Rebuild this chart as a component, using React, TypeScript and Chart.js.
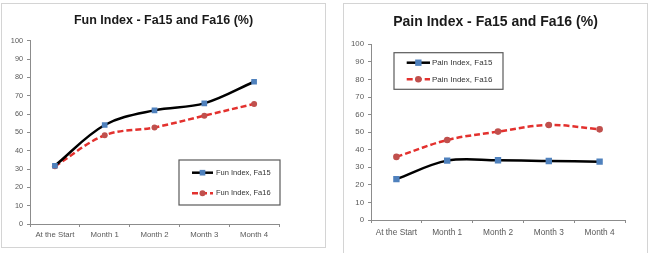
import React, { useEffect, useRef } from "react";
import { Chart, registerables } from "chart.js";

Chart.register(...registerables);

const categories = ["At the Start", "Month 1", "Month 2", "Month 3", "Month 4"];
const yTicks = [0, 10, 20, 30, 40, 50, 60, 70, 80, 90, 100];

const funTitle = "Fun Index - Fa15 and Fa16 (%)";
const funFa15Label = "Fun Index, Fa15";
const funFa16Label = "Fun Index, Fa16";
const funFa15 = [31.8, 54, 62, 65.8, 77.6];
const funFa16 = [31.5, 48.4, 52.7, 59.1, 65.5];

const painTitle = "Pain Index - Fa15 and Fa16 (%)";
const painFa15Label = "Pain Index, Fa15";
const painFa16Label = "Pain Index, Fa16";
const painFa15 = [23.3, 33.8, 34, 33.6, 33.2];
const painFa16 = [35.9, 45.5, 50.3, 54.1, 51.6];

const FONT = "'Liberation Sans', Arial, sans-serif";
const BLUE = "#4F81BD";
const RED_MARK = "#C0504D";
const RED_LINE = "#E3312E";
const AXIS = "#8C8C8C";
const TICK_TXT = "#595959";

type LegendCfg = {
  box: [number, number, number, number];
  lineX: [number, number];
  textX: number;
  rows: number[];
  fontSize: number;
};

const boxLegendPlugin = {
  id: "boxLegend",
  afterDraw(chart: any, _args: any, opts: LegendCfg) {
    if (!opts || !opts.box) return;
    const ctx = chart.ctx;
    ctx.save();
    const [bx, by, bw, bh] = opts.box;
    ctx.fillStyle = "#ffffff";
    ctx.fillRect(bx, by, bw, bh);
    ctx.strokeStyle = "#5a5a5a";
    ctx.lineWidth = 1.2;
    ctx.strokeRect(bx, by, bw, bh);
    chart.data.datasets.forEach((ds: any, i: number) => {
      const y = opts.rows[i];
      ctx.beginPath();
      ctx.setLineDash(ds.borderDash || []);
      ctx.strokeStyle = ds.borderColor;
      ctx.lineWidth = ds.borderWidth;
      ctx.moveTo(opts.lineX[0], y);
      ctx.lineTo(opts.lineX[1], y);
      ctx.stroke();
      ctx.setLineDash([]);
      const cx = (opts.lineX[0] + opts.lineX[1]) / 2;
      ctx.fillStyle = ds.pointBackgroundColor;
      ctx.beginPath();
      const r = ds.pointRadius;
      if (ds.pointStyle === "rect") {
        const s = r * Math.SQRT1_2;
        ctx.rect(cx - s, y - s, 2 * s, 2 * s);
      } else {
        ctx.arc(cx, y, r, 0, Math.PI * 2);
      }
      ctx.fill();
      ctx.fillStyle = "#333333";
      ctx.font = `${opts.fontSize}px ${FONT}`;
      ctx.textBaseline = "middle";
      ctx.textAlign = "left";
      ctx.fillText(ds.label, opts.textX, y);
    });
    ctx.restore();
  },
};

type PanelProps = {
  title: string;
  labels: string[];
  s1: number[];
  s2: number[];
  l1: string;
  l2: string;
  left: number;
  top: number;
  width: number;
  height: number;
  titleSize: number;
  titlePad: { top: number; bottom: number };
  tickSize: number;
  yWidth: number;
  xHeight: number;
  xPad: number;
  padRight: number;
  rectR: number;
  circR: number;
  legend: LegendCfg;
};

function Panel(p: PanelProps) {
  const ref = useRef<HTMLCanvasElement | null>(null);
  useEffect(() => {
    if (!ref.current) return;
    const chart = new Chart(ref.current, {
      type: "line",
      data: {
        labels: p.labels,
        datasets: [
          {
            label: p.l1,
            data: p.s1,
            borderColor: "#000000",
            borderWidth: 2.5,
            tension: 0.35,
            pointStyle: "rect",
            pointRadius: p.rectR,
            pointBackgroundColor: BLUE,
            pointBorderColor: BLUE,
            pointBorderWidth: 0,
          },
          {
            label: p.l2,
            data: p.s2,
            borderColor: RED_LINE,
            borderWidth: 2.5,
            borderDash: [6, 3],
            tension: 0.35,
            pointStyle: "circle",
            pointRadius: p.circR,
            pointBackgroundColor: RED_MARK,
            pointBorderColor: RED_MARK,
            pointBorderWidth: 0,
          },
        ] as any,
      },
      plugins: [boxLegendPlugin],
      options: {
        animation: false,
        responsive: true,
        maintainAspectRatio: false,
        layout: { padding: 0 },
        plugins: {
          legend: { display: false },
          tooltip: { enabled: false },
          title: {
            display: true,
            text: p.title,
            color: "#1a1a1a",
            font: { family: FONT, size: p.titleSize, weight: "bold" },
            padding: p.titlePad,
          },
          boxLegend: p.legend,
        } as any,
        scales: {
          x: {
            type: "category",
            offset: true,
            grid: {
              offset: true,
              drawOnChartArea: false,
              drawTicks: true,
              tickLength: 3,
              color: AXIS,
            },
            border: { color: AXIS, width: 1 },
            ticks: {
              color: TICK_TXT,
              font: { family: FONT, size: p.tickSize },
              padding: p.xPad,
              maxRotation: 0,
              autoSkip: false,
            },
            afterFit: (s: any) => {
              s.height = p.xHeight;
            },
          },
          y: {
            min: 0,
            max: 100,
            afterBuildTicks: (s: any) => {
              s.ticks = yTicks.map((v) => ({ value: v }));
            },
            grid: {
              drawOnChartArea: false,
              drawTicks: true,
              tickLength: 3,
              color: AXIS,
            },
            border: { color: AXIS, width: 1 },
            ticks: {
              color: TICK_TXT,
              font: { family: FONT, size: p.tickSize - 0.5 },
              padding: 4,
            },
            afterFit: (s: any) => {
              s.width = p.yWidth;
            },
          },
          spacer: {
            type: "linear",
            position: "right",
            display: true,
            grid: { display: false, drawTicks: false },
            border: { display: false },
            ticks: { display: false },
            afterFit: (s: any) => {
              s.width = p.padRight;
            },
          },
        } as any,
      },
    });
    return () => chart.destroy();
  }, []);
  return (
    <div
      style={{
        position: "absolute",
        left: p.left,
        top: p.top,
        width: p.width,
        height: p.height,
        border: "1px solid #d4d4d4",
        background: "#ffffff",
      }}
    >
      <canvas ref={ref} />
    </div>
  );
}

export default function App() {
  return (
    <div
      style={{
        position: "absolute",
        left: 0,
        top: 0,
        width: 656,
        height: 253,
        overflow: "hidden",
        background: "#ffffff",
      }}
    >
      <Panel
        title={funTitle}
        labels={categories}
        s1={funFa15}
        s2={funFa16}
        l1={funFa15Label}
        l2={funFa16Label}
        left={1}
        top={3}
        width={323}
        height={243}
        titleSize={12.5}
        titlePad={{ top: 9.5, bottom: 12.2 }}
        tickSize={7.8}
        yWidth={28}
        xHeight={23}
        xPad={3}
        padRight={46}
        rectR={4}
        circR={3}
        legend={{
          box: [177, 156, 101, 45],
          lineX: [190, 211],
          textX: 214,
          rows: [168.7, 189.3],
          fontSize: 7.5,
        }}
      />
      <Panel
        title={painTitle}
        labels={categories}
        s1={painFa15}
        s2={painFa16}
        l1={painFa15Label}
        l2={painFa16Label}
        left={343}
        top={3}
        width={303}
        height={252}
        titleSize={14}
        titlePad={{ top: 9.6, bottom: 13.9 }}
        tickSize={8.3}
        yWidth={27}
        xHeight={36}
        xPad={4.5}
        padRight={22}
        rectR={4.5}
        circR={3.3}
        legend={{
          box: [50, 48.7, 109, 36.6],
          lineX: [62.7, 86],
          textX: 88,
          rows: [58.7, 75.3],
          fontSize: 8,
        }}
      />
    </div>
  );
}
